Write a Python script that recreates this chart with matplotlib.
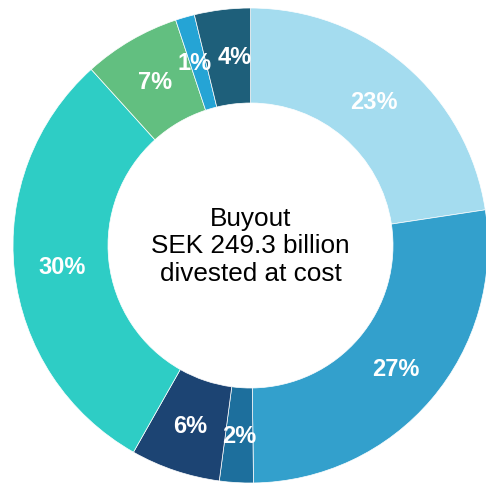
import matplotlib
matplotlib.use("Agg")
from matplotlib import pyplot as plt

labels = ["23%", "27%", "2%", "6%", "30%", "7%", "1%", "4%"]
# slice sizes (labels are the rounded figures)
shares = [22.6, 27.2, 2.3, 6.1, 30.1, 6.6, 1.3, 3.8]
colors = ["#a4dcef", "#33a0cc", "#1d6f9d", "#1c4473", "#2ecdc5", "#62bf80", "#25a4d5", "#1e5f7a"]
center_text = "Buyout\nSEK 249.3 billion\ndivested at cost"
# small sideways nudges so the two thin top slices' labels don't collide
nudge = {"1%": -0.015, "4%": 0.03}

plt.rcParams['font.family'] = ['Liberation Sans', 'DejaVu Sans']

W, H = 486, 485
fig = plt.figure(figsize=(W / 100, H / 100), dpi=100)
cx, cy, R = 250.5, 246.5, 237.5
ax = fig.add_axes([(cx - R) / W, (H - cy - R) / H, 2 * R / W, 2 * R / H])

wedges, texts, autotexts = ax.pie(
    shares, colors=colors, startangle=90, counterclock=False,
    radius=1, pctdistance=0.8,
    autopct=lambda p: "",
    wedgeprops=dict(width=0.4, edgecolor="white", linewidth=0.5),
)
for t, lab in zip(autotexts, labels):
    t.set_text(lab)
    t.set_color("white")
    t.set_fontsize(17)
    t.set_fontweight("bold")
    if lab in nudge:
        x, y = t.get_position()
        t.set_position((x + nudge[lab], y))

ax.text(0, 0, center_text, ha="center", va="center", fontsize=18.8,
        color="black", linespacing=1.18)
ax.set_xlim(-1, 1)
ax.set_ylim(-1, 1)
ax.set_aspect("equal")
ax.axis("off")

fig.savefig("out.png", dpi=100)
